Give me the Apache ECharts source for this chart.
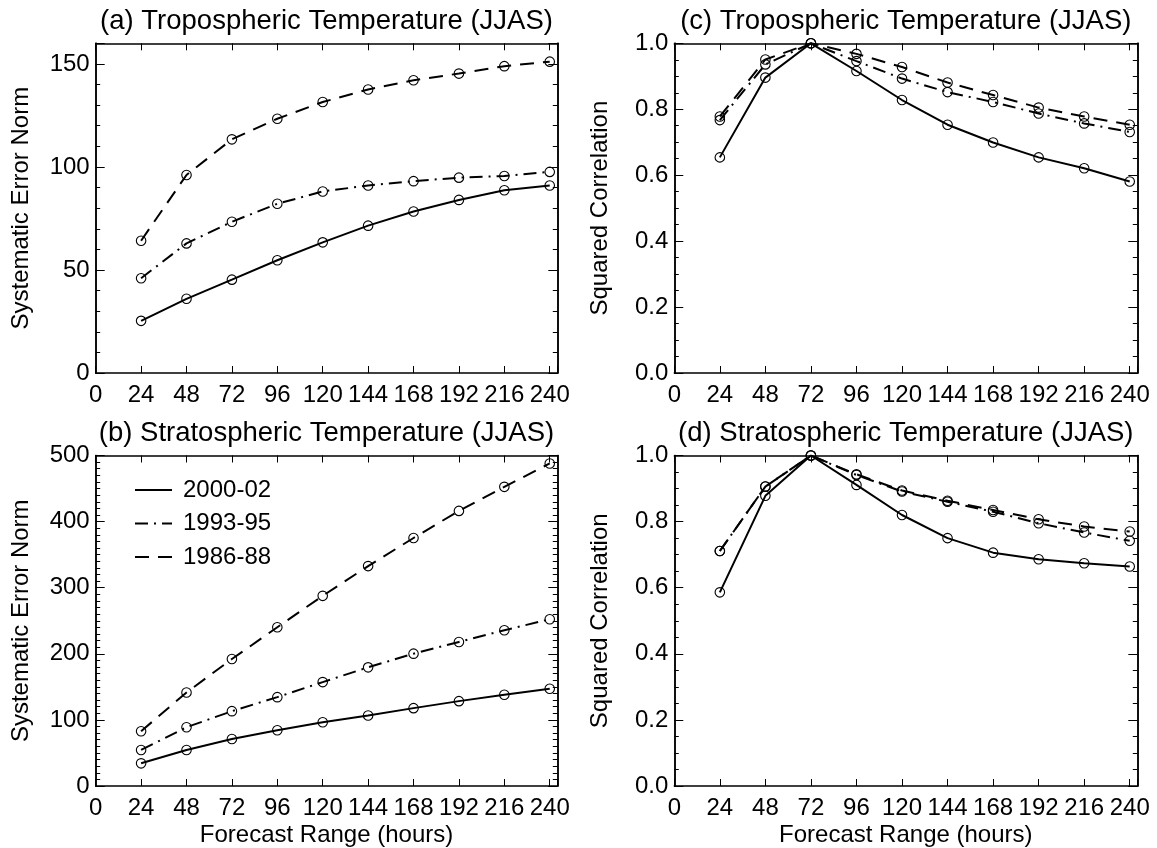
<!DOCTYPE html>
<html><head><meta charset="utf-8">
<script src="https://cdn.jsdelivr.net/npm/echarts@6/dist/echarts.min.js"></script>
<style>html,body{margin:0;padding:0;background:#fff}#c{width:1157px;height:848px}</style>
</head><body><div id="c"></div>
<script>
// ---------- data ----------
const hours = [24, 48, 72, 96, 120, 144, 168, 192, 216, 240];
const seriesNames = ['2000-02', '1993-95', '1986-88'];
const xTicks = [0, 24, 48, 72, 96, 120, 144, 168, 192, 216, 240];

// (a) Tropospheric Temperature - Systematic Error Norm
const tropErr2000 = [25.3, 36.0, 45.3, 54.7, 63.4, 71.5, 78.4, 84.0, 88.7, 91.0];
const tropErr1993 = [46.0, 62.9, 73.4, 82.1, 88.1, 91.0, 93.1, 94.8, 95.6, 97.6];
const tropErr1986 = [64.2, 96.1, 113.4, 123.4, 131.5, 137.6, 142.1, 145.3, 148.9, 151.1];

// (b) Stratospheric Temperature - Systematic Error Norm
const stratErr2000 = [34.3, 54.5, 71.2, 84.4, 96.5, 106.6, 117.8, 128.4, 138.0, 147.1];
const stratErr1993 = [54.5, 88.9, 113.2, 134.4, 157.2, 179.5, 200.2, 217.9, 235.6, 252.3];
const stratErr1986 = [82.9, 141.5, 192.1, 240.2, 287.7, 332.7, 375.2, 416.2, 452.6, 488.0];

// (c) Tropospheric Temperature - Squared Correlation
const tropCor2000 = [0.654, 0.896, 1.0, 0.916, 0.828, 0.753, 0.699, 0.654, 0.621, 0.581];
const tropCor1993 = [0.767, 0.936, 1.0, 0.946, 0.893, 0.852, 0.822, 0.787, 0.757, 0.731];
const tropCor1986 = [0.778, 0.951, 1.0, 0.968, 0.928, 0.881, 0.843, 0.805, 0.778, 0.753];

// (d) Stratospheric Temperature - Squared Correlation
const stratCor2000 = [0.586, 0.878, 1.0, 0.911, 0.820, 0.750, 0.706, 0.686, 0.674, 0.664];
const stratCor1993 = [0.711, 0.906, 1.0, 0.941, 0.891, 0.860, 0.830, 0.795, 0.767, 0.742];
const stratCor1986 = [0.711, 0.906, 1.0, 0.943, 0.894, 0.863, 0.835, 0.807, 0.785, 0.770];

const titles = [
  '(a) Tropospheric Temperature (JJAS)',
  '(b) Stratospheric Temperature (JJAS)',
  '(c) Tropospheric Temperature (JJAS)',
  '(d) Stratospheric Temperature (JJAS)'
];
const yNames = ['Systematic Error Norm', 'Systematic Error Norm', 'Squared Correlation', 'Squared Correlation'];
const xName = 'Forecast Range (hours)';

// ---------- layout / style ----------
const FONT = 'Liberation Sans, Arial, Helvetica, sans-serif';
const TICK_FS = 24;
const panels = [
  {grid: {left: 95.7, top: 43.3, width: 461.6, height: 329.7}, yMin: 0, yMax: 160, major: 50, minor: 10, dec: 0, data: [tropErr2000, tropErr1993, tropErr1986], xName: false},
  {grid: {left: 95.7, top: 455.5, width: 461.6, height: 330.5}, yMin: 0, yMax: 500, major: 100, minor: 10, dec: 0, data: [stratErr2000, stratErr1993, stratErr1986], xName: true},
  {grid: {left: 674.3, top: 43.3, width: 463, height: 329.7}, yMin: 0, yMax: 1.0, major: 0.2, minor: 0.05, dec: 1, data: [tropCor2000, tropCor1993, tropCor1986], xName: false},
  {grid: {left: 674.3, top: 455.5, width: 463, height: 330.5}, yMin: 0, yMax: 1.0, major: 0.2, minor: 0.05, dec: 1, data: [stratCor2000, stratCor1993, stratCor1986], xName: true}
];
const lineTypes = ['solid', [13, 6, 2, 6], [14, 9]];

const grid = [], xAxis = [], yAxis = [], series = [], title = [];
const axisLine = {show: true, onZero: false, lineStyle: {color: '#000', width: 1.5}};

panels.forEach((p, gi) => {
  grid.push(Object.assign({containLabel: false}, p.grid));
  const cx = p.grid.left + p.grid.width / 2;
  title.push({
    text: titles[gi], left: cx, top: p.grid.top - 36, textAlign: 'center', padding: 0,
    textStyle: {fontFamily: FONT, fontSize: 27.5, fontWeight: 'normal', color: '#000'}
  });
  ['bottom', 'top'].forEach(pos => {
    const ax = {
      gridIndex: gi, type: 'value', min: 0, max: 244, interval: 24, position: pos,
      axisLine: axisLine,
      axisTick: {show: true, inside: true, length: 7, lineStyle: {color: '#000', width: 1}},
      axisLabel: {show: pos === 'bottom', fontFamily: FONT, fontSize: TICK_FS, color: '#000', margin: 10,
        formatter: v => (xTicks.indexOf(v) >= 0 ? String(v) : '')},
      splitLine: {show: false}
    };
    if (pos === 'bottom' && p.xName) {
      Object.assign(ax, {name: xName, nameLocation: 'middle', nameGap: 37,
        nameTextStyle: {fontFamily: FONT, fontSize: TICK_FS, color: '#000'}});
    }
    xAxis.push(ax);
  });
  const yBase = yAxis.length;
  ['left', 'right'].forEach(pos => {
    [['major', p.major, 9], ['minor', p.minor, 4.5]].forEach(([kind, iv, len]) => {
      const ax = {
        gridIndex: gi, type: 'value', min: p.yMin, max: p.yMax, interval: iv, position: pos,
        axisLine: axisLine,
        axisTick: {show: true, inside: true, length: len, lineStyle: {color: '#000', width: 1}},
        axisLabel: {show: pos === 'left' && kind === 'major', fontFamily: FONT, fontSize: TICK_FS, color: '#000', margin: 6,
          formatter: v => {
            const r = Math.round(v / p.major) * p.major;
            return Math.abs(v - r) < 1e-9 ? v.toFixed(p.dec) : '';
          }},
        splitLine: {show: false}
      };
      if (pos === 'left' && kind === 'major') {
        Object.assign(ax, {name: yNames[gi], nameLocation: 'middle', nameGap: 62,
          nameTextStyle: {fontFamily: FONT, fontSize: TICK_FS, color: '#000'}});
      }
      yAxis.push(ax);
    });
  });
  p.data.forEach((vals, si) => {
    series.push({
      name: seriesNames[si], type: 'line', xAxisIndex: gi * 2, yAxisIndex: yBase,
      data: hours.map((h, i) => [h, vals[i]]),
      symbol: 'circle', symbolSize: 9.5, clip: false, animation: false,
      lineStyle: {color: '#000', width: 2, type: lineTypes[si]},
      itemStyle: {color: 'rgba(0,0,0,0)', borderColor: '#000', borderWidth: 1.1},
      z: 3 - si
    });
  });
});

const option = {
  backgroundColor: '#fff',
  animation: false,
  title: title,
  grid: grid, xAxis: xAxis, yAxis: yAxis, series: series,
  legend: {
    show: true, data: seriesNames, orient: 'vertical', left: 134, top: 478, padding: 0,
    itemWidth: 37, itemHeight: 14, itemGap: 9.5,
    itemStyle: {color: 'rgba(0,0,0,0)', borderColor: 'rgba(0,0,0,0)', borderWidth: 0},
    lineStyle: {width: 2, color: '#000'},
    textStyle: {fontFamily: FONT, fontSize: TICK_FS, color: '#000', padding: [0, 0, 0, 6]},
    selectedMode: false
  }
};
const chart = echarts.init(document.getElementById('c'), null, {renderer: 'canvas'});
chart.setOption(option);
</script></body></html>
